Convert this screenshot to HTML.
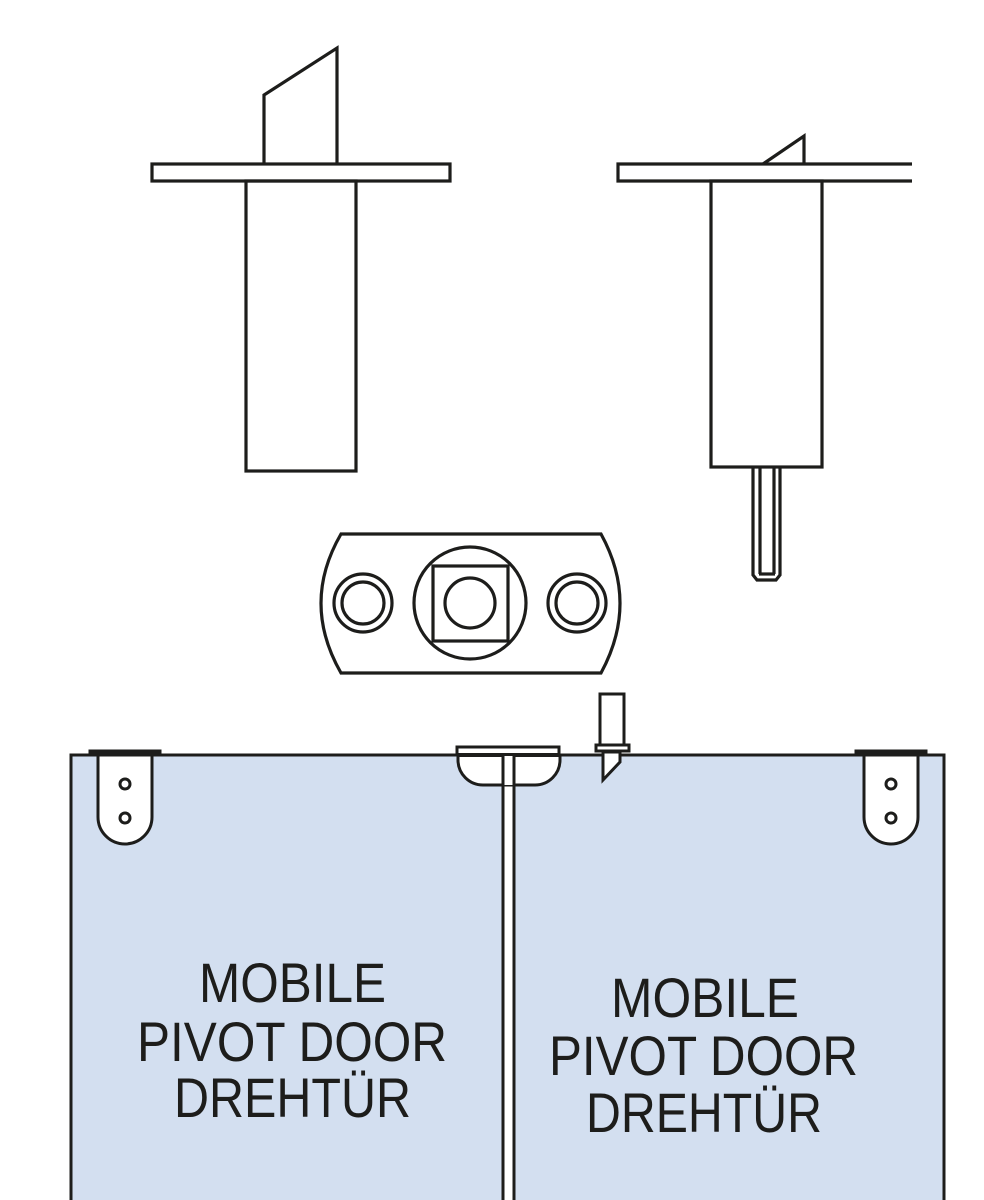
<!DOCTYPE html>
<html><head><style>
html,body{margin:0;padding:0;background:#fff;}
svg{display:block;}
text{font-family:"Liberation Sans",sans-serif;font-size:56px;fill:#1d1d1b;}
</style></head><body>
<svg width="984" height="1200" viewBox="0 0 984 1200" xmlns="http://www.w3.org/2000/svg">
<g fill="none" stroke="#1d1d1b" stroke-width="3.2">
<polyline points="264,164 264,95 337,48 337,164"/>
<rect x="152" y="164" width="298" height="17" fill="#fff"/>
<rect x="246" y="181" width="110" height="290"/>
<polyline points="763,164 804,136 804,164"/>
<path d="M912,164 H618 V181 H912"/>
<rect x="711" y="181" width="111" height="286"/>
<path d="M753,467 V575 L757,580 H776 L780,575 V467"/>
<line x1="760" y1="467" x2="760" y2="574"/>
<line x1="774" y1="467" x2="774" y2="574"/>
<line x1="759" y1="574" x2="775" y2="574"/>
<path d="M341,534 H601 Q639,603 601,673 H341 Q301,603 341,534 Z"/>
<circle cx="470" cy="603" r="56"/>
<rect x="433" y="566" width="75" height="75"/>
<circle cx="470" cy="603" r="25"/>
<circle cx="363" cy="603" r="29"/><circle cx="363" cy="603" r="21"/>
<circle cx="577" cy="603" r="29"/><circle cx="577" cy="603" r="21"/>
</g>
<rect x="71" y="755" width="432" height="450" fill="#d3dff0" stroke="#1d1d1b" stroke-width="3"/>
<rect x="514" y="755" width="430" height="450" fill="#d3dff0" stroke="#1d1d1b" stroke-width="3"/>
<rect x="503" y="755" width="11" height="450" fill="#fff"/>
<line x1="503" y1="755" x2="503" y2="1200" stroke="#1d1d1b" stroke-width="3"/>
<line x1="514" y1="755" x2="514" y2="1200" stroke="#1d1d1b" stroke-width="3"/>
<g stroke="#1d1d1b" stroke-width="3" fill="#fff">
<path d="M98,753 V817 A27,27 0 0 0 152,817 V753"/>
<rect x="90" y="751" width="70" height="4" fill="#1d1d1b"/>
<circle cx="125" cy="784" r="5"/><circle cx="125" cy="818" r="5"/>
<path d="M864,753 V817 A27,27 0 0 0 918,817 V753"/>
<rect x="856" y="751" width="70" height="4" fill="#1d1d1b"/>
<circle cx="891" cy="784" r="5"/><circle cx="891" cy="818" r="5"/>
<path d="M458,756 V760 A25,25 0 0 0 483,785 H535 A25,25 0 0 0 560,760 V756"/>
<rect x="457" y="747" width="102" height="8"/>
<line x1="457" y1="755" x2="559" y2="755" stroke-width="4"/>
<rect x="504" y="756" width="9" height="29" stroke="none"/>
<line x1="503" y1="755" x2="503" y2="787"/>
<line x1="514" y1="755" x2="514" y2="787"/>
<rect x="600" y="694" width="24" height="51"/>
<rect x="596" y="745" width="33" height="6"/>
<path d="M603,752 V780 L620,762 V752 Z"/>
</g>
<text x="199" y="1002" textLength="187" lengthAdjust="spacingAndGlyphs">MOBILE</text>
<text x="137" y="1061" textLength="310" lengthAdjust="spacingAndGlyphs">PIVOT DOOR</text>
<text x="174" y="1117" textLength="237" lengthAdjust="spacingAndGlyphs">DREHTÜR</text>
<text x="611" y="1017" textLength="188" lengthAdjust="spacingAndGlyphs">MOBILE</text>
<text x="549" y="1075" textLength="309" lengthAdjust="spacingAndGlyphs">PIVOT DOOR</text>
<text x="586" y="1132" textLength="236" lengthAdjust="spacingAndGlyphs">DREHTÜR</text>
</svg>
</body></html>
